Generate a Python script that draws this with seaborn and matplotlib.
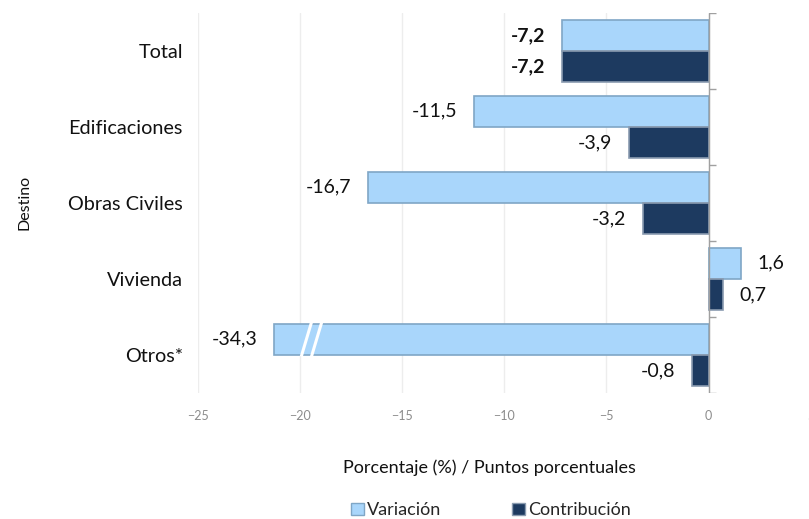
import numpy as np
import pandas as pd
import matplotlib.pyplot as plt
import seaborn as sns

destinos = ["Total", "Edificaciones", "Obras Civiles", "Vivienda", "Otros*"]
variacion = [-7.2, -11.5, -16.7, 1.6, -34.3]
contribucion = [-7.2, -3.9, -3.2, 0.7, -0.8]
series = ["Variación", "Contribución"]
colores = ["#A9D6FB", "#1D3A60"]
bordes = ["#7FA6C6", "#8A9BB0"]

# the axis stops at -25, long bars are cut and marked with a break
CORTE = -21.3

sns.set_theme(style="white")
plt.rcParams['font.family'] = ['Lato', 'DejaVu Sans']

df = pd.DataFrame({
    "Destino": destinos * 2,
    "serie": [series[0]] * len(destinos) + [series[1]] * len(destinos),
    "valor": variacion + contribucion,
})
df["dibujo"] = df["valor"].clip(lower=CORTE)

fig = plt.figure(figsize=(8.09, 5.19), dpi=100)
ax = fig.add_axes([0.245, 0.243, 0.757, 0.732])

sns.barplot(data=df, y="Destino", x="dibujo", hue="serie", order=destinos,
            hue_order=series, palette=colores, orient="h", ax=ax,
            width=0.82, legend=False, saturation=1)

for cont, borde in zip(ax.containers, bordes):
    for b in cont:
        b.set_edgecolor(borde)
        b.set_linewidth(1.2)

valores = [variacion, contribucion]
for i, cont in enumerate(ax.containers):
    etiquetas = [f"{v:.1f}".replace(".", ",") for v in valores[i]]
    txts = ax.bar_label(cont, labels=etiquetas, padding=12, fontsize=14, color="#111111")
    txts[0].set_fontweight("bold")

# break marks on clipped bars
for b, v in zip(ax.containers[0], variacion):
    if v < CORTE:
        y0 = b.get_y()
        h = b.get_height()
        for dx in (1.6, 2.1):
            ax.plot([CORTE + dx - 0.25, CORTE + dx + 0.25], [y0 + h + 0.02, y0 - 0.02],
                    color="white", lw=2.2, solid_capstyle="butt", zorder=5)

ax.set_xlim(-25, 5)
ax.set_ylim(4.5, -0.5)
ax.set_xticks(np.arange(-25, 6, 5))
ax.tick_params(axis="x", labelsize=9, labelcolor="#8C8C8C", length=0, pad=12)
ax.tick_params(axis="y", labelsize=14.3, labelcolor="#111111", length=0, pad=11)
ax.grid(axis="x", color="#EDEDED", lw=1)
ax.set_axisbelow(True)
for s in ax.spines.values():
    s.set_visible(False)
ax.axvline(0, color="#A0A0A0", lw=1, zorder=1)
ax.hlines(np.arange(-0.5, 5, 1), 0, 0.35, color="#A0A0A0", lw=1)

ax.set_xlabel("Porcentaje (%) / Puntos porcentuales", fontsize=13, color="#111111")
ax.xaxis.set_label_coords(0.475, -0.175)
ax.set_ylabel("Destino", fontsize=11.5, color="#111111")
ax.yaxis.set_label_coords(-0.272, 0.5)

handles = [plt.Rectangle((0, 0), 1, 1, facecolor=c, edgecolor=e, lw=1) for c, e in zip(colores, bordes)]
fig.legend(handles, series, loc="lower center", bbox_to_anchor=(0.607, -0.03), ncol=2,
           frameon=False, fontsize=13, handlelength=0.7, handleheight=0.7,
           handletextpad=0.2, columnspacing=3.9)

plt.savefig("out.png", dpi=100)
